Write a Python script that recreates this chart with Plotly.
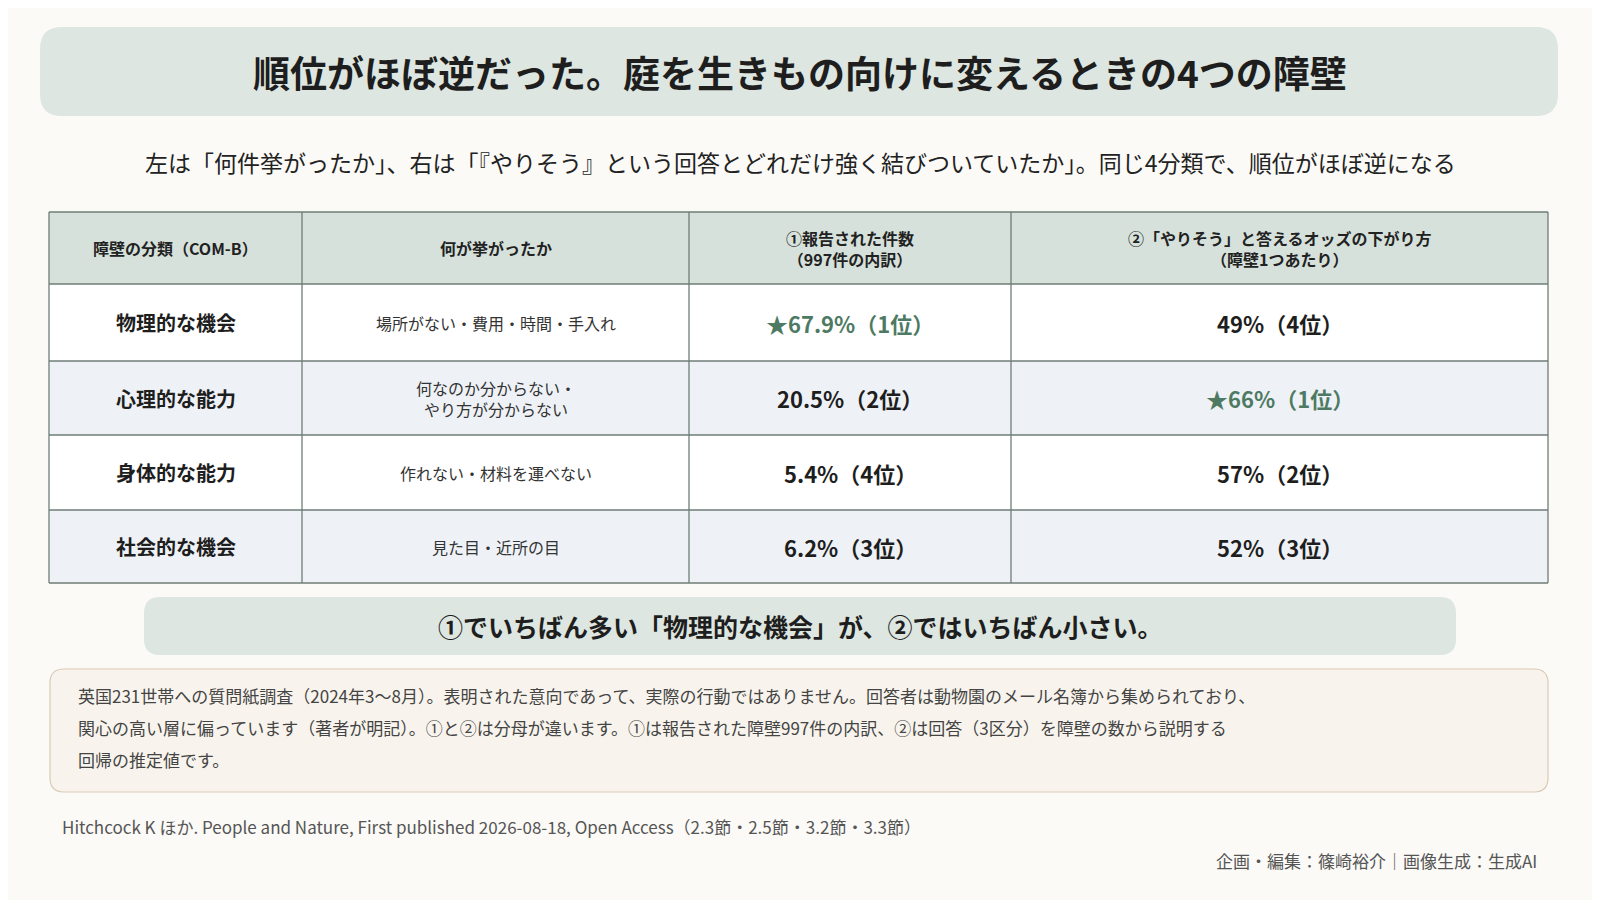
import plotly.graph_objects as go

title = "順位がほぼ逆だった。庭を生きもの向けに変えるときの4つの障壁"
subtitle = "左は「何件挙がったか」、右は「『やりそう』という回答とどれだけ強く結びついていたか」。同じ4分類で、順位がほぼ逆になる"
headers = ["障壁の分類（COM-B）", "何が挙がったか", "①報告された件数<br>（997件の内訳）", "②「やりそう」と答えるオッズの下がり方<br>（障壁1つあたり）"]
categories = ["物理的な機会", "心理的な能力", "身体的な能力", "社会的な機会"]
examples = ["場所がない・費用・時間・手入れ", "何なのか分からない・<br>やり方が分からない", "作れない・材料を運べない", "見た目・近所の目"]
share_pct = [67.9, 20.5, 5.4, 6.2]
share_rank = [1, 2, 4, 3]
odds_pct = [49, 66, 57, 52]
odds_rank = [4, 1, 2, 3]
callout = "①でいちばん多い「物理的な機会」が、②ではいちばん小さい。"
note_lines = ["英国231世帯への質問紙調査（2024年3～8月）。表明された意向であって、実際の行動ではありません。回答者は動物園のメール名簿から集められており、",
              "関心の高い層に偏っています（著者が明記）。①と②は分母が違います。①は報告された障壁997件の内訳、②は回答（3区分）を障壁の数から説明する",
              "回帰の推定値です。"]
source = "Hitchcock K ほか. People and Nature, First published 2026-08-18, Open Access（2.3節・2.5節・3.2節・3.3節）"
credit = "企画・編集：篠崎裕介｜画像生成：生成AI"

FONT = "Noto Sans CJK JP"
GREEN = "#4e7a63"
fig = go.Figure()
shapes = []
ann = []

def rrect(x0, y0, x1, y1, r, fill, line=None, lw=0):
    p = (f"M{x0+r},{y0} L{x1-r},{y0} Q{x1},{y0} {x1},{y0+r} L{x1},{y1-r} Q{x1},{y1} {x1-r},{y1} "
         f"L{x0+r},{y1} Q{x0},{y1} {x0},{y1-r} L{x0},{y0+r} Q{x0},{y0} {x0+r},{y0} Z")
    shapes.append(dict(type="path", path=p, xref="x", yref="y", fillcolor=fill,
                       line=dict(color=line or fill, width=lw), layer="below"))

def text(x, y, s, size, color="#222", bold=False, xanchor="center"):
    if bold:
        s = "<b>" + s + "</b>"
    ann.append(dict(x=x, y=y, xref="x", yref="y", text=s, showarrow=False, xanchor=xanchor,
                    yanchor="middle", align="left" if xanchor == "left" else "center",
                    font=dict(family=FONT, size=size, color=color)))

rrect(40, 27, 1558, 116, 22, "#dde6e0")
text(800, 72, title, 37, "#1e1e1e", True)
text(800, 162, subtitle, 23, "#222")

cols = [49, 302, 689, 1011, 1548]
rows = [212, 284, 361, 435, 510, 583]
shapes.append(dict(type="rect", x0=cols[0], x1=cols[-1], y0=rows[0], y1=rows[1], xref="x", yref="y",
                   fillcolor="#d6e1db", line=dict(width=0), layer="below"))
for i in range(4):
    fill = "#ffffff" if i % 2 == 0 else "#eef2f7"
    shapes.append(dict(type="rect", x0=cols[0], x1=cols[-1], y0=rows[i+1], y1=rows[i+2], xref="x", yref="y",
                       fillcolor=fill, line=dict(width=0), layer="below"))
for y in rows:
    shapes.append(dict(type="line", x0=cols[0], x1=cols[-1], y0=y, y1=y, xref="x", yref="y",
                       line=dict(color="#6f7d77", width=1.3)))
for x in cols:
    shapes.append(dict(type="line", x0=x, x1=x, y0=rows[0], y1=rows[-1], xref="x", yref="y",
                       line=dict(color="#6f7d77", width=1.3)))

hy = (rows[0] + rows[1]) / 2
for j, h in enumerate(headers):
    text((cols[j] + cols[j+1]) / 2, hy, h, 16, "#222", True)

for i in range(4):
    cy = (rows[i+1] + rows[i+2]) / 2
    text((cols[0] + cols[1]) / 2, cy, categories[i], 20, "#1e1e1e", True)
    text((cols[1] + cols[2]) / 2, cy, examples[i], 16, "#333")
    s1 = f"{share_pct[i]}%（{share_rank[i]}位）"
    s2 = f"{odds_pct[i]}%（{odds_rank[i]}位）"
    c1 = GREEN if share_rank[i] == 1 else "#1e1e1e"
    c2 = GREEN if odds_rank[i] == 1 else "#1e1e1e"
    text((cols[2] + cols[3]) / 2, cy, ("★" if share_rank[i] == 1 else "") + s1, 22, c1, True)
    text((cols[3] + cols[4]) / 2, cy, ("★" if odds_rank[i] == 1 else "") + s2, 22, c2, True)

rrect(144, 597, 1456, 655, 16, "#dde6e0")
text(800, 626, callout, 25, "#1e1e1e", True)

rrect(50, 669, 1548, 792, 14, "#f8f4ed", "#d9cbb3", 1.2)
for k, ln in enumerate(note_lines):
    text(76, 695 + 32 * k, ln, 17, "#444", xanchor="left")
text(60, 826, source, 17, "#555", xanchor="left")
ann.append(dict(x=1539, y=860, xref="x", yref="y", text=credit, showarrow=False, xanchor="right",
                yanchor="middle", font=dict(family=FONT, size=17, color="#555")))

fig.update_layout(width=1600, height=900, margin=dict(l=0, r=0, t=0, b=0),
                  paper_bgcolor="#fbfaf7", plot_bgcolor="#fbfaf7",
                  shapes=shapes, annotations=ann, showlegend=False,
                  xaxis=dict(range=[8, 1608], visible=False, fixedrange=True),
                  yaxis=dict(range=[908, 8], visible=False, fixedrange=True))
fig.write_html("out.html", config={"displayModeBar": False})
